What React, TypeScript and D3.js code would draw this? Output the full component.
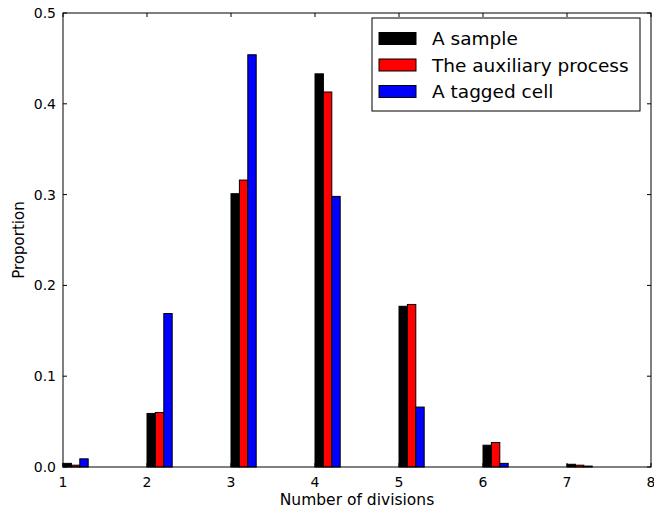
import React, { useRef, useEffect } from "react";
import * as d3 from "d3";

const divisions = [1, 2, 3, 4, 5, 6, 7];
const sampleValues = [0.004, 0.059, 0.301, 0.433, 0.177, 0.024, 0.003];
const auxiliaryValues = [0.002, 0.06, 0.316, 0.413, 0.179, 0.027, 0.002];
const taggedValues = [0.009, 0.169, 0.454, 0.298, 0.066, 0.004, 0.001];
const seriesNames = ["A sample", "The auxiliary process", "A tagged cell"];
const seriesColors = ["#000000", "#ff0000", "#0000ff"];
const xTicks = [1, 2, 3, 4, 5, 6, 7, 8];
const yTicks = [0, 0.1, 0.2, 0.3, 0.4, 0.5];

const App = () => {
  const ref = useRef<SVGSVGElement>(null);

  useEffect(() => {
    if (!ref.current) return;
    const svg = d3.select(ref.current);
    svg.selectAll("*").remove();

    const margins = { left: 63, right: 3, top: 13, bottom: 45 };
    const width = 654;
    const height = 512;
    const w = width - margins.left - margins.right;
    const h = height - margins.top - margins.bottom;
    const font = "DejaVu Sans, sans-serif";

    const x = d3.scaleLinear().domain([1, 8]).range([0, w]);
    const y = d3.scaleLinear().domain([0, 0.5]).range([h, 0]);
    const barW = 0.1;

    const g = svg
      .append("g")
      .attr("transform", "translate(" + margins.left + "," + margins.top + ")");

    const allSeries = [sampleValues, auxiliaryValues, taggedValues];
    allSeries.forEach((vals, si) => {
      g.append("g")
        .selectAll("rect")
        .data(vals)
        .join("rect")
        .attr("x", (d, i) => x(divisions[i] + si * barW))
        .attr("width", x(1 + barW) - x(1))
        .attr("y", (d) => y(d))
        .attr("height", (d) => y(0) - y(d))
        .attr("fill", seriesColors[si])
        .attr("stroke", "#000")
        .attr("stroke-width", 1);
    });

    // frame
    g.append("rect")
      .attr("width", w)
      .attr("height", h)
      .attr("fill", "none")
      .attr("stroke", "#000")
      .attr("stroke-width", 1);

    // x ticks (inward, both sides)
    const xt = g.append("g");
    xTicks.forEach((t) => {
      xt.append("line")
        .attr("x1", x(t)).attr("x2", x(t))
        .attr("y1", h).attr("y2", h - 4)
        .attr("stroke", "#000");
      xt.append("line")
        .attr("x1", x(t)).attr("x2", x(t))
        .attr("y1", 0).attr("y2", 4)
        .attr("stroke", "#000");
      xt.append("text")
        .attr("x", x(t))
        .attr("y", h + 20)
        .attr("text-anchor", "middle")
        .attr("font-family", font)
        .attr("font-size", 14)
        .text(d3.format("d")(t));
    });

    const yt = g.append("g");
    yTicks.forEach((t) => {
      yt.append("line")
        .attr("x1", 0).attr("x2", 4)
        .attr("y1", y(t)).attr("y2", y(t))
        .attr("stroke", "#000");
      yt.append("line")
        .attr("x1", w).attr("x2", w - 4)
        .attr("y1", y(t)).attr("y2", y(t))
        .attr("stroke", "#000");
      yt.append("text")
        .attr("x", -7)
        .attr("y", y(t) + 5)
        .attr("text-anchor", "end")
        .attr("font-family", font)
        .attr("font-size", 14)
        .text(d3.format(".1f")(t));
    });

    // axis labels
    svg.append("text")
      .attr("x", margins.left + w / 2)
      .attr("y", 505)
      .attr("text-anchor", "middle")
      .attr("font-family", font)
      .attr("font-size", 15.5)
      .text("Number of divisions");

    svg.append("text")
      .attr("transform", "translate(24," + (margins.top + h / 2) + ") rotate(-90)")
      .attr("text-anchor", "middle")
      .attr("font-family", font)
      .attr("font-size", 15)
      .text("Proportion");

    // legend
    const legend = svg.append("g").attr("transform", "translate(372,18)");
    legend.append("rect")
      .attr("width", 268)
      .attr("height", 93)
      .attr("fill", "#fff")
      .attr("stroke", "#000");
    seriesNames.forEach((name, i) => {
      const ly = 20.5 + i * 26.5;
      legend.append("rect")
        .attr("x", 7)
        .attr("y", ly - 6)
        .attr("width", 37)
        .attr("height", 12)
        .attr("fill", seriesColors[i])
        .attr("stroke", "#000");
      legend.append("text")
        .attr("x", 60)
        .attr("y", ly + 6.5)
        .attr("font-family", font)
        .attr("font-size", 18.5)
        .text(name);
    });
  }, []);

  return (
    <svg
      ref={ref}
      width={654}
      height={512}
      style={{ position: "absolute", left: 0, top: 0, background: "#fff" }}
    />
  );
};

export default App;
